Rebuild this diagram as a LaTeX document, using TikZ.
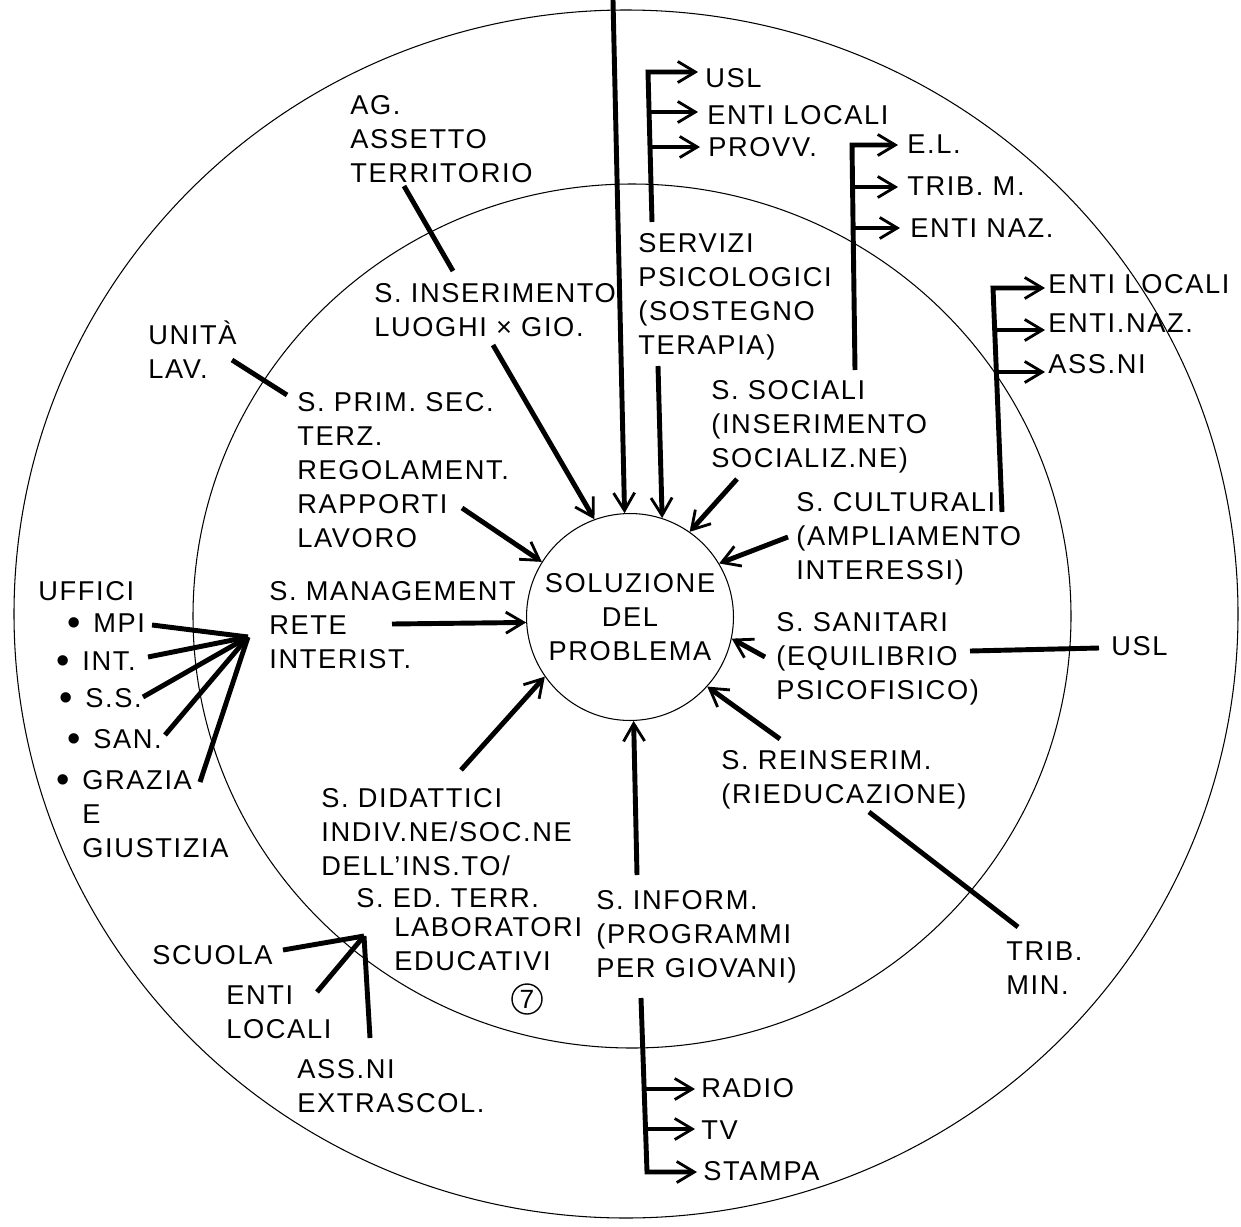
\documentclass[tikz,border=0pt]{standalone}
\usepackage{graphicx}
\usepackage{fontspec}
\newfontfamily\diagfont{Liberation Sans}[LetterSpace=6]
\newcommand\dgf{\diagfont\fontsize{15.5}{19.3}\selectfont}
\newcommand\bigbul{\llap{\raisebox{-2pt}{\scalebox{1.4}{\textbullet}}\hspace{7pt}}}
\usetikzlibrary{arrows.meta}
\begin{document}
\begin{tikzpicture}[x=0.02cm,y=-0.02cm,line join=miter,
  th/.style={line width=2.8pt},
  arr/.style={th,-{Straight Barb[length=10pt,width=12pt,line width=1.6pt]}},
  lbl/.style={anchor=base west,inner sep=0pt,align=left,font=\dgf},
  ring/.style={line width=0.6pt}]
\useasboundingbox (0,0) rectangle (1241,1227);
% rings
\draw[ring] (626,614) ellipse [x radius=612, y radius=604];
\draw[ring] (632,616) ellipse [x radius=439, y radius=432];
\node[draw,circle,ring,minimum size=4.14cm,inner sep=0pt,align=center,font=\dgf] (sol) at (630,617) {SOLUZIONE\\DEL\\PROBLEMA};
% texts (y = baseline of the last line)
\node[lbl] (ag) at (350,182) {AG.\\ASSETTO\\TERRITORIO};
\node[lbl] (ins) at (374,336) {S. INSERIMENTO\\LUOGHI × GIO.};
\node[lbl] (uni) at (148,378) {UNITÀ\\LAV.};
\node[lbl] (prim) at (297,547) {S. PRIM. SEC.\\TERZ.\\REGOLAMENT.\\RAPPORTI\\LAVORO};
\node[lbl] (man) at (269,668) {S. MANAGEMENT\\RETE\\INTERIST.};
\node[lbl] (uff) at (38,600) {UFFICI};
\node[lbl] (mpi) at (93,632) {\bigbul MPI};
\node[lbl] (int) at (82,670) {\bigbul INT.};
\node[lbl] (ss) at (85,707) {\bigbul S.S.};
\node[lbl] (san) at (93,748) {\bigbul SAN.};
\node[lbl] (gra) at (82,857) {\bigbul GRAZIA\\E\\GIUSTIZIA};
\node[lbl] (did) at (321,875) {S. DIDATTICI\\INDIV.NE/SOC.NE\\DELL’INS.TO/};
\node[lbl] (edt) at (356,907) {S. ED. TERR.};
\node[lbl] (lab) at (394,970) {LABORATORI\\EDUCATIVI};
\node[draw,circle,line width=0.8pt,minimum size=0.6cm,inner sep=0pt,font=\diagfont\fontsize{15}{15}\selectfont] (seven) at (527,999) {7};
\node[lbl] (scu) at (152,964) {SCUOLA};
\node[lbl] (enl) at (226,1038) {ENTI\\LOCALI};
\node[lbl] (ass) at (297,1112) {ASS.NI\\EXTRASCOL.};
\node[lbl] (inf) at (596,977) {S. INFORM.\\(PROGRAMMI\\PER GIOVANI)};
\node[lbl] (rad) at (701,1097) {RADIO};
\node[lbl] (tv) at (701,1139) {TV};
\node[lbl] (sta) at (703,1180) {STAMPA};
\node[lbl] (rei) at (721,803) {S. REINSERIM.\\(RIEDUCAZIONE)};
\node[lbl] (trib) at (1006,994) {TRIB.\\MIN.};
\node[lbl] (sani) at (776,699) {S. SANITARI\\(EQUILIBRIO\\PSICOFISICO)};
\node[lbl] (usl2) at (1111,655) {USL};
\node[lbl] (cul) at (796,579) {S. CULTURALI\\(AMPLIAMENTO\\INTERESSI)};
\node[lbl] (el3) at (1048,293) {ENTI LOCALI};
\node[lbl] (en3) at (1048,332) {ENTI.NAZ.};
\node[lbl] (as3) at (1048,373) {ASS.NI};
\node[lbl] (soc) at (711,467) {S. SOCIALI\\(INSERIMENTO\\SOCIALIZ.NE)};
\node[lbl] (el2) at (907,153) {E.L.};
\node[lbl] (tm2) at (907,195) {TRIB. M.};
\node[lbl] (en2) at (910,237) {ENTI NAZ.};
\node[lbl] (psi) at (638,354) {SERVIZI\\PSICOLOGICI\\(SOSTEGNO\\TERAPIA)};
\node[lbl] (usl1) at (705,87) {USL};
\node[lbl] (el1) at (707,124) {ENTI LOCALI};
\node[lbl] (pr1) at (708,156) {PROVV.};
% coordinates
\coordinate (topA) at (613,0);
\coordinate (insA) at (493,345);
\coordinate (psiA) at (658,366);
\coordinate (socA) at (737,479);
\coordinate (culA) at (788,537);
\coordinate (saniA) at (765,657);
\coordinate (reiA) at (780,739);
\coordinate (infA) at (637,875);
\coordinate (didA) at (461,770);
\coordinate (manA) at (392,624);
\coordinate (primA) at (462,508);
\coordinate (agA) at (404,186);  \coordinate (agB) at (453,271);
\coordinate (uniA) at (232,360); \coordinate (uniB) at (287,395);
\coordinate (saniB) at (970,651); \coordinate (uslB) at (1099,648);
\coordinate (reiB) at (869,812);  \coordinate (tribB) at (1018,927);
\coordinate (uffC) at (248,637);
\coordinate (mpiA) at (152,625); \coordinate (intA) at (148,657);
\coordinate (ssA) at (143,697);  \coordinate (sanA) at (165,735);
\coordinate (graA) at (200,782);
\coordinate (edC) at (364,936);
\coordinate (scuA) at (283,950); \coordinate (enlA) at (317,992);
\coordinate (assA) at (370,1038);
% trees
\coordinate (p0) at (652,222); \coordinate (p1) at (648,72); \coordinate (p1t) at (698,72);
\coordinate (p2) at (649,112); \coordinate (p2t) at (698,112);
\coordinate (p3) at (650,147); \coordinate (p3t) at (700,147);
\coordinate (s0) at (855,370); \coordinate (s1) at (852,145); \coordinate (s1t) at (898,145);
\coordinate (s2) at (853,187); \coordinate (s2t) at (898,187);
\coordinate (s3) at (854,228); \coordinate (s3t) at (900,228);
\coordinate (c0) at (1002,512); \coordinate (c1) at (993,288); \coordinate (c1t) at (1045,288);
\coordinate (c2) at (995,330); \coordinate (c2t) at (1045,330);
\coordinate (c3) at (996,372); \coordinate (c3t) at (1045,372);
\coordinate (i0) at (641,998); \coordinate (i3) at (647,1172); \coordinate (i3t) at (697,1172);
\coordinate (i1) at (644,1089); \coordinate (i1t) at (695,1089);
\coordinate (i2) at (645.5,1129); \coordinate (i2t) at (695,1129);
% arrows into the centre
\draw[arr] (topA) -- (sol.93);
\draw[arr] (insA) -- (sol.110);
\draw[arr] (psiA) -- (sol.72);
\draw[arr] (socA) -- (sol.55);
\draw[arr] (culA) -- (sol.31);
\draw[arr] (saniA) -- (sol.-12);
\draw[arr] (reiA) -- (sol.-42);
\draw[arr] (infA) -- (sol.-88);
\draw[arr] (didA) -- (sol.215);
\draw[arr] (manA) -- (sol.183);
\draw[arr] (primA) -- (sol.148);
% plain links
\draw[th] (agA) -- (agB);
\draw[th] (uniA) -- (uniB);
\draw[th] (saniB) -- (uslB);
\draw[th] (reiB) -- (tribB);
\foreach \s in {mpiA,intA,ssA,sanA,graA} \draw[th] (\s) -- (uffC);
\foreach \s in {scuA,enlA,assA} \draw[th] (\s) -- (edC);
% branching trees
\draw[arr] (p0) -- (p1) -- (p1t);
\draw[arr] (p2) -- (p2t);
\draw[arr] (p3) -- (p3t);
\draw[arr] (s0) -- (s1) -- (s1t);
\draw[arr] (s2) -- (s2t);
\draw[arr] (s3) -- (s3t);
\draw[arr] (c0) -- (c1) -- (c1t);
\draw[arr] (c2) -- (c2t);
\draw[arr] (c3) -- (c3t);
\draw[arr] (i0) -- (i3) -- (i3t);
\draw[arr] (i1) -- (i1t);
\draw[arr] (i2) -- (i2t);
\end{tikzpicture}
\end{document}
